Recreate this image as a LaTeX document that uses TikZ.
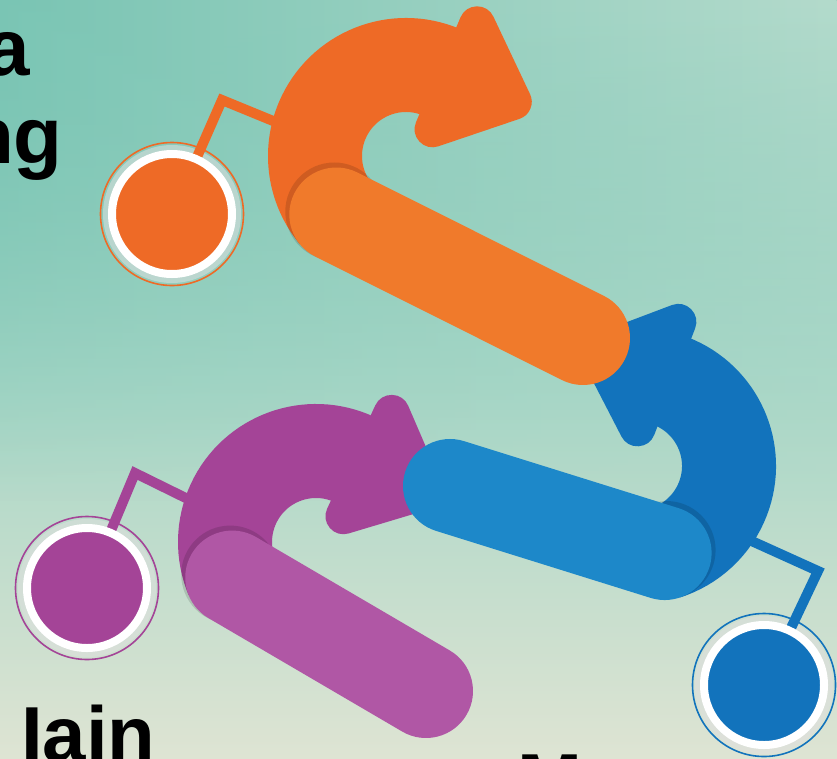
\documentclass[tikz,border=0pt]{standalone}
\usepackage{fontspec}
\setmainfont{Liberation Sans}
\usetikzlibrary{calc,fadings}
\definecolor{orD}{HTML}{EE6A26}
\definecolor{orL}{HTML}{F07A2B}
\definecolor{blD}{HTML}{1273BC}
\definecolor{blL}{HTML}{1D88C9}
\definecolor{puD}{HTML}{A44497}
\definecolor{puL}{HTML}{B057A5}
\definecolor{bgA}{HTML}{7AC5B4}
\definecolor{bgB}{HTML}{A6D6C6}
\definecolor{bgC}{HTML}{DEE4D3}
\definecolor{bgR}{HTML}{B4DBCC}
\tikzset{
  conn/.style={draw=#1, line width=10pt, line join=miter},
  halo/.style={fill=gray!25, opacity=0.55},
  ring/.style={draw=#1, line width=1.6pt},
  disk/.style={circle, fill=#1, draw=white, line width=8pt, minimum size=120pt, inner sep=0pt},
  band/.style={draw=#1, line width=94pt, line cap=butt},
  capsule/.style={draw=#1, line width=94pt, line cap=round},
  capshadow/.style={fill=black, opacity=0.13},
  headfill/.style={fill=#1, draw=#1, line width=36pt, line join=round},
  bigtxt/.style={inner sep=0pt, font=\fontsize{#1}{#1}\selectfont\bfseries, text=black},
}
\newcommand{\headshape}[1]{\filldraw[headfill=#1] (14,149) -- (78,92) -- (14,35) -- cycle;}
\begin{document}
\begin{tikzpicture}[x=1pt,y=1pt]
\useasboundingbox (0,0) rectangle (837,-758);
% background
\shade[top color=bgA, bottom color=bgC, middle color=bgB] (0,0) rectangle (837,-758);
\shade[left color=bgA, right color=bgR, path fading=south] (0,0) rectangle (837,-500);

% key points
\coordinate (oC) at (406,-156);
\coordinate (oE) at (583,-338);
\coordinate (bC) at (638,-466);
\coordinate (bE) at (450,-486);
\coordinate (pC) at (316,-542);
\coordinate (pE) at (426,-691);

% connectors
\coordinate (oelb) at (222,-100);
\coordinate (oend) at (300,-132);
\coordinate (pelb) at (135,-473);
\coordinate (pend) at (200,-505);
\coordinate (belb) at (818,-571);
\coordinate (bend) at (745,-538);

\coordinate (oc) at (172,-214);
\coordinate (pc) at (87,-588);
\coordinate (bc) at (764,-685);

\fill[halo] (oc) circle (69);
\fill[halo] (pc) circle (69);
\fill[halo] (bc) circle (69);
\draw[conn=orD] (oc) -- (oelb) -- (oend);
\draw[conn=puD] (pc) -- (pelb) -- (pend);
\draw[conn=blD] (bc) -- (belb) -- (bend);
\node[disk=orD] (odot) at (oc) {};
\node[disk=puD] (pdot) at (pc) {};
\node[disk=blD] (bdot) at (bc) {};
\draw[ring=orD] (odot.center) circle (71.5);
\draw[ring=puD] (pdot.center) circle (71.5);
\draw[ring=blD] (bdot.center) circle (71.5);

% purple arrow
\draw[band=puD] (pC) ++(65:91) arc[start angle=65, end angle=203, radius=91];
\begin{scope}[shift={(pC)}, rotate=-25]
  \headshape{puD}
\end{scope}
\coordinate (pS) at ($(pC)+(203:91)$);
\fill[capshadow] ([shift={(-2,3)}]pS) circle (49);
\draw[capsule=puL] (pS) -- (pE);

% blue arrow
\draw[band=blD] (bC) ++(69:91) arc[start angle=69, end angle=-73, radius=91];
\begin{scope}[shift={(bC)}, rotate=-21, xscale=-1]
  \headshape{blD}
\end{scope}
\coordinate (bS) at ($(bC)+(-73:91)$);
\fill[capshadow] ([shift={(2,3)}]bS) circle (49);
\draw[capsule=blL] (bS) -- (bE);

% orange arrow
\draw[band=orD] (oC) ++(67:91) arc[start angle=67, end angle=220, radius=91];
\begin{scope}[shift={(oC)}, rotate=-23]
  \headshape{orD}
\end{scope}
\coordinate (oS) at ($(oC)+(220:91)$);
\fill[capshadow] ([shift={(-2,3)}]oS) circle (49);
\draw[capsule=orL] (oS) -- (oE);

% texts
\node[bigtxt=80, anchor=base east] (ta) at (30,-75) {a};
\node[bigtxt=80, anchor=base east] (tng) at (63,-163) {ng};
\node[bigtxt=78, anchor=base west] (tiain) at (21,-761) {Iain};
\node[bigtxt=78, anchor=base west] (tm) at (517,-808) {M};
\end{tikzpicture}
\end{document}
